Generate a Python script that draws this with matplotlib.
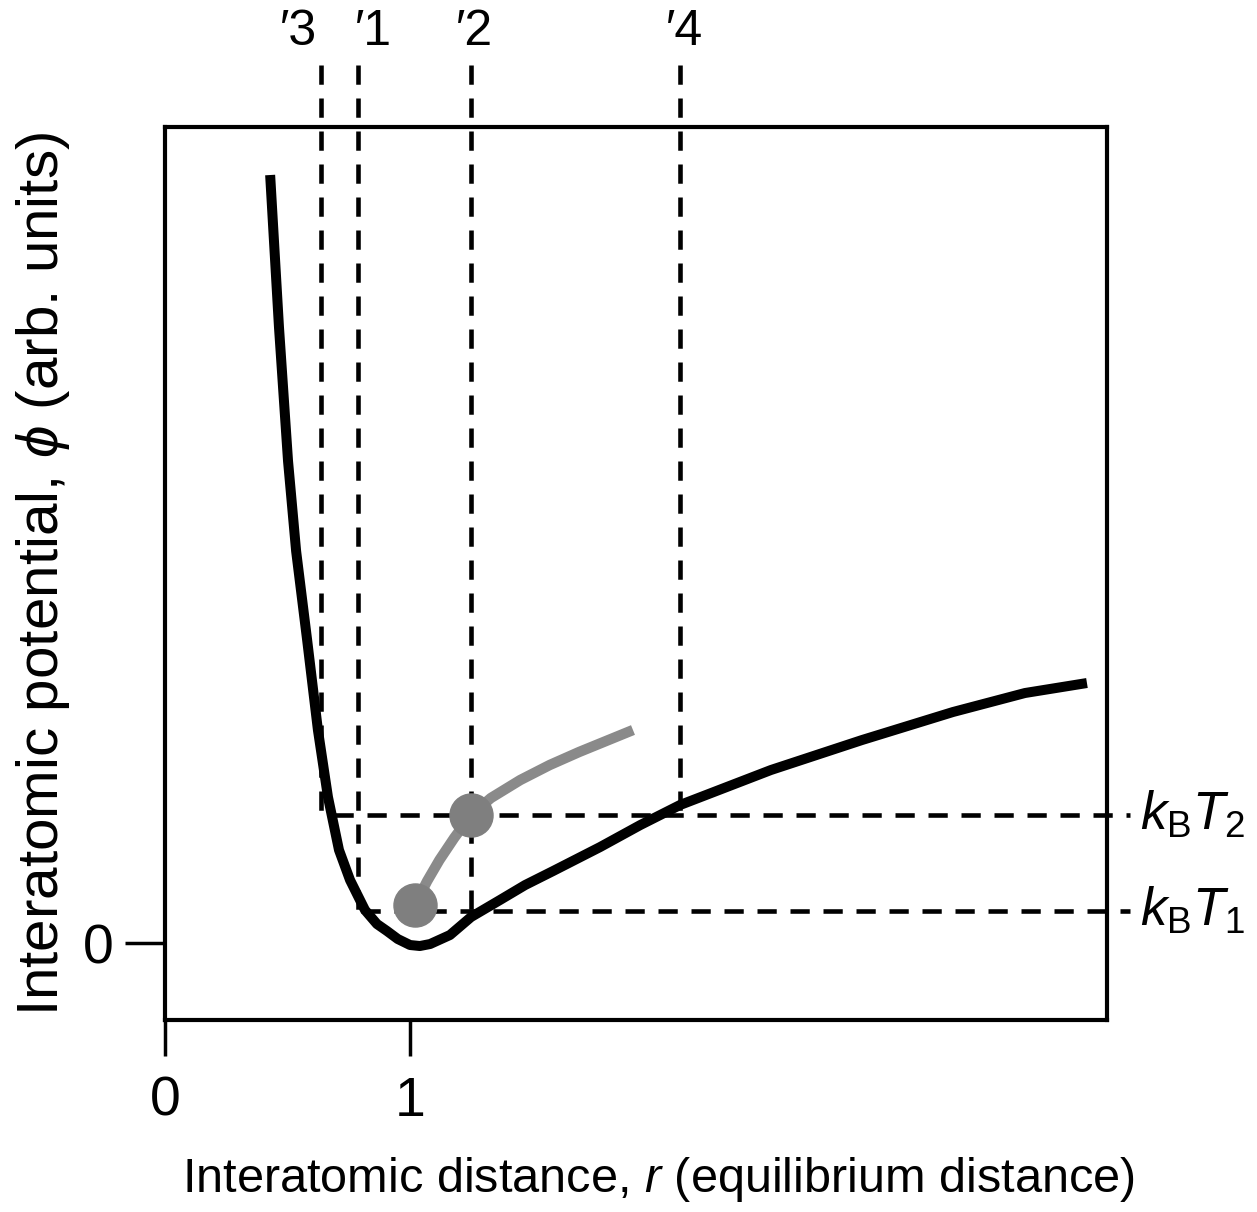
import numpy as np
import matplotlib.pyplot as plt

plt.rcParams['font.family'] = ['Liberation Sans', 'DejaVu Sans']
plt.rcParams['mathtext.fontset'] = 'custom'
plt.rcParams['mathtext.it'] = 'Liberation Sans:italic'
plt.rcParams['mathtext.rm'] = 'Liberation Sans'

# potential curve (r in equilibrium distance, phi in arb. units)
r_pot = [0.429, 0.465, 0.502, 0.535, 0.580, 0.624, 0.665, 0.710, 0.755, 0.816,
         0.865, 0.906, 0.950, 1.000, 1.040, 1.082, 1.163, 1.249, 1.367, 1.470,
         1.584, 1.680, 1.776, 1.940, 2.102, 2.473, 2.845, 3.216, 3.510, 3.763]
phi_pot = [7.68, 6.16, 4.82, 3.92, 3.03, 2.13, 1.46, 0.93, 0.63, 0.33,
           0.19, 0.12, 0.04, -0.02, -0.03, -0.01, 0.08, 0.26, 0.43, 0.58,
           0.72, 0.84, 0.96, 1.18, 1.38, 1.73, 2.03, 2.31, 2.50, 2.60]

# mean position curve
r_mean = [1.02, 1.07, 1.12, 1.18, 1.249, 1.33, 1.45, 1.57, 1.69, 1.80, 1.91]
phi_mean = [0.38, 0.62, 0.83, 1.05, 1.28, 1.45, 1.63, 1.78, 1.91, 2.02, 2.13]

# energy levels and turning points
kT = [0.32, 1.28]
kT_labels = [r'$k_{\mathrm{B}}T_1$', r'$k_{\mathrm{B}}T_2$']
r_turn = [0.788, 1.249, 0.637, 2.102]        # r1, r2, r3, r4
r_turn_level = [0.32, 0.32, 1.28, 1.28]
r_turn_labels = ['\u20321', '\u20322', '\u20323', '\u20324']
r_label_x = [0.849, 1.265, 0.543, 2.122]
r_level_start = [0.80, 0.69]

fig = plt.figure(figsize=(12.57, 12.12), dpi=100)
ax = fig.add_axes([0.1313, 0.1584, 0.8807 - 0.1313, 0.8952 - 0.1584])
ax.set_xlim(0, 3.845)
ax.set_ylim(-0.77, 8.16)

dash = (0, (4.2, 3.0))
for x, lev in zip(r_turn, r_turn_level):
    ax.plot([x, x], [8.78, lev], color='black', lw=3.3, linestyle=dash, clip_on=False)
for y, x0 in zip(kT, r_level_start):
    ax.plot([x0, 3.94], [y, y], color='black', lw=3.3, linestyle=dash, clip_on=False)

ax.plot(r_pot, phi_pot, color='black', lw=7.2, solid_capstyle='butt',
        solid_joinstyle='round', zorder=3)
ax.plot(r_mean, phi_mean, color='#8a8a8a', lw=7.5, solid_capstyle='butt',
        solid_joinstyle='round', zorder=4)
ax.plot([r_mean[0], r_mean[4]], [phi_mean[0], phi_mean[4]], 'o', color='#7f7f7f',
        markersize=31, zorder=5)

for lab, x in zip(r_turn_labels, r_label_x):
    ax.text(x, 8.78 + 0.10, lab, fontsize=36, ha='center', va='bottom', clip_on=False)
for lab, y in zip(kT_labels, kT):
    ax.text(3.98, y, lab, fontsize=38, ha='left', va='center', clip_on=False)

for s in ax.spines.values():
    s.set_linewidth(3)
ax.set_xticks([0, 1])
ax.set_xticklabels(['0', '1'])
ax.set_yticks([0])
ax.set_yticklabels(['0'])
ax.tick_params(axis='x', direction='out', length=26, width=2.5, pad=14, labelsize=40)
ax.tick_params(axis='y', direction='out', length=29, width=2.5, pad=8, labelsize=40)

ax.set_xlabel(r'Interatomic distance, $\mathit{r}$ (equilibrium distance)', fontsize=35, labelpad=20)
ax.set_ylabel(r'Interatomic potential, $\phi$ (arb. units)', fontsize=42, labelpad=8)
ax.xaxis.label.set_x(0.524)
ax.yaxis.label.set_y(0.50)

fig.savefig('out.png', dpi=100)
